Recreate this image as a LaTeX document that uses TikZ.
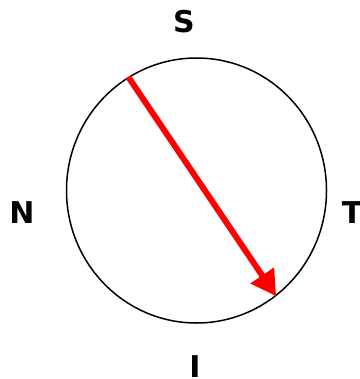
\documentclass[tikz,border=0pt]{standalone}
\usepackage{fontspec}
\setmainfont{DejaVu Sans}
\usetikzlibrary{arrows.meta, shapes.geometric}

\begin{document}
\begin{tikzpicture}[x=1pt,y=-1pt,
    lbl/.style={font=\fontsize{30}{36}\selectfont\bfseries, inner sep=0pt}]
    \useasboundingbox (0,0) rectangle (359,379);
    \node[draw, ellipse, line width=1.5pt, inner sep=0pt,
      minimum width=260pt, minimum height=265pt] (dial) at (196.5,190.5) {};
    \foreach \n/\x/\y in {S/184/21.5, N/22/213, T/352/213, I/195/367}{
    \node[lbl] (\n) at (\x,\y) {\n}; }
    \draw[red, line width=6pt, -{Triangle[length=25pt,width=27pt]}]
    (dial.121) -- (dial.-53.6);
    \end{tikzpicture}
\end{document}
